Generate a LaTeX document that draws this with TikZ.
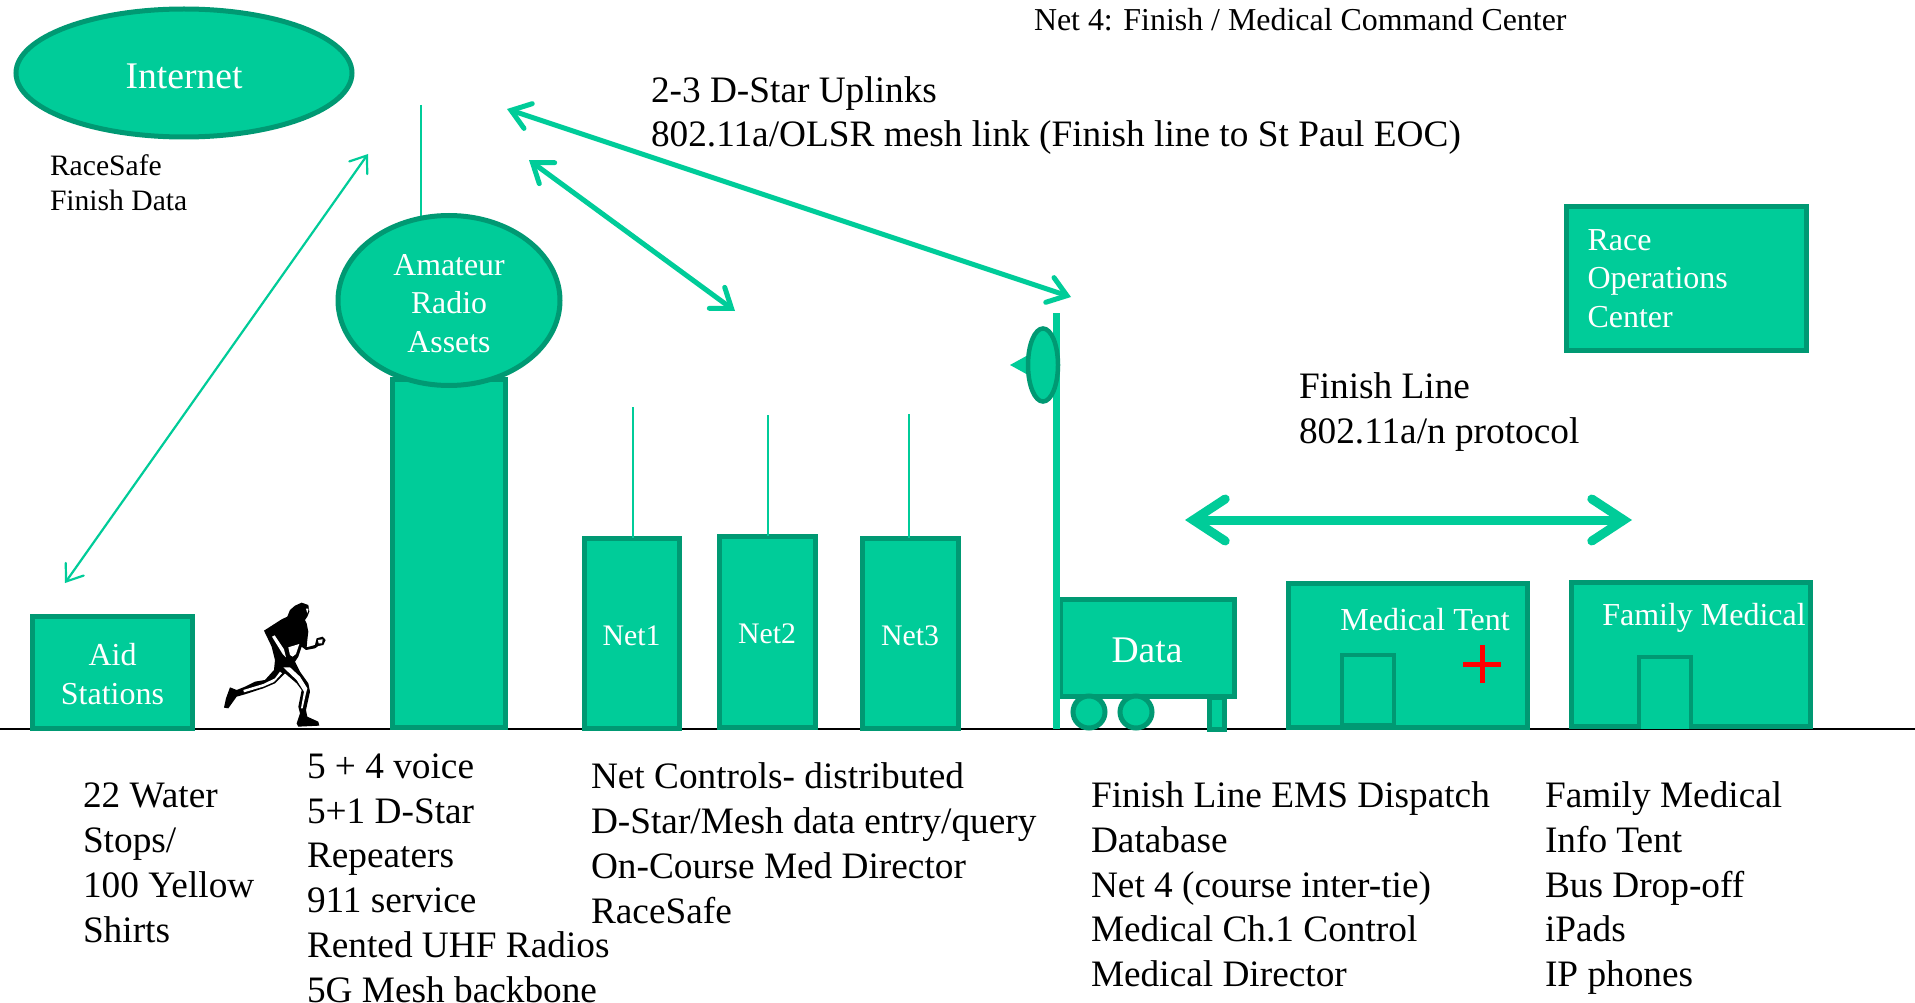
\documentclass[tikz,border=0pt]{standalone}
\usepackage{fontspec}
\setmainfont{Liberation Serif}
\usetikzlibrary{arrows.meta}
\definecolor{gfill}{HTML}{00CC99}
\definecolor{gline}{HTML}{009973}
\tikzset{
  x=1pt,y=-1pt,
  shapebox/.style={draw=gline,fill=gfill,line width=5pt,rectangle,outer sep=0pt,inner sep=0pt,anchor=north west,text=white,align=center,font=\fontsize{32}{38.5}\selectfont},
  oval/.style={draw=gline,fill=gfill,line width=5pt,ellipse,outer sep=0pt,inner sep=0pt,text=white,align=center,font=\fontsize{31.8}{38.5}\selectfont},
  label/.style={anchor=base west,align=left,inner sep=0pt,outer sep=0pt,text=black,font=\fontsize{37.3}{44.7}\selectfont},
  small/.style={label,font=\fontsize{29.6}{35.4}\selectfont},
  whitetext/.style={text=white,inner sep=0pt,outer sep=0pt,font=\fontsize{32}{38.5}\selectfont},
  mast/.style={draw=gfill,line width=2pt},
  thinarrow/.style={draw=gfill,line width=2.2pt,{Straight Barb[length=15pt,width=22pt,line cap=round]}-{Straight Barb[length=15pt,width=22pt,line cap=round]}},
  midarrow/.style={draw=gfill,line width=5pt,{Straight Barb[length=18pt,width=26pt,line cap=round]}-{Straight Barb[length=18pt,width=26pt,line cap=round]}},
  bigarrow/.style={draw=gfill,line width=9pt,{Straight Barb[length=32pt,width=42pt,line cap=round]}-{Straight Barb[length=32pt,width=42pt,line cap=round]}},
}
\usetikzlibrary{shapes.geometric}
\begin{document}
\begin{tikzpicture}
\useasboundingbox (0,0) rectangle (1915,1003);
\fill[white] (0,0) rectangle (1915,1003);

% ground
\coordinate (gl) at (0,729);
\coordinate (gr) at (1915,729);
\draw[black,line width=2pt] (gl) -- (gr);

% internet
\node[oval,minimum width=336pt,minimum height=128pt] (internet) at (184,73) {\fontsize{37.6}{40}\selectfont\rule{0pt}{31pt}Internet};
\node[small] (race) at (50,211) {RaceSafe\\Finish Data};

% tower
\coordinate (a0top) at (421,105);
\coordinate (a0bot) at (421,222);
\draw[mast] (a0top) -- (a0bot);
\node[shapebox,minimum width=113pt,minimum height=348pt] (tower) at (392.5,379) {};
\node[oval,minimum width=222pt,minimum height=170pt] (assets) at (449,300.5) {\rule{0pt}{27pt}Amateur\\Radio\\Assets};

% nets
\node[shapebox,minimum width=95pt,minimum height=190pt,font=\fontsize{29.8}{38}\selectfont] (net1) at (584,538) {\rule{0pt}{25pt}Net1};
\node[shapebox,minimum width=96pt,minimum height=191pt,font=\fontsize{29.8}{38}\selectfont] (net2) at (719,536) {\rule{0pt}{25pt}Net2};
\node[shapebox,minimum width=96pt,minimum height=190pt,font=\fontsize{29.8}{38}\selectfont] (net3) at (862,538) {\rule{0pt}{25pt}Net3};
\coordinate (a1) at (633,407);
\coordinate (a2) at (768,415);
\coordinate (a3) at (909,414);
\draw[mast] (a1) -- (net1.north -| a1);
\draw[mast] (a2) -- (net2.north -| a2);
\draw[mast] (a3) -- (net3.north -| a3);

% aid stations
\node[shapebox,minimum width=160pt,minimum height=112pt] (aid) at (32.5,616.5) {\rule{0pt}{25pt}Aid\\Stations};

% data cart
\node[shapebox,minimum width=174pt,minimum height=97pt,font=\fontsize{37.6}{40}\selectfont] (data) at (1060,599) {\rule{0pt}{30pt}Data};
\node[draw=gline,fill=gfill,line width=5pt,circle,minimum size=32pt,inner sep=0pt,outer sep=0pt] (w1) at (1089,712) {};
\node[draw=gline,fill=gfill,line width=5pt,circle,minimum size=32pt,inner sep=0pt,outer sep=0pt] (w2) at (1136,712) {};
\node[shapebox,minimum width=15pt,minimum height=32pt] (leg) at (1209,697) {};
\coordinate (poleT) at (1056.5,313);
\coordinate (poleB) at (1056.5,729);
\draw[draw=gfill,line width=7.5pt] (poleT) -- (poleB);
\coordinate (t1) at (1010,365);
\coordinate (t2) at (1030,354);
\coordinate (t3) at (1030,376);
\fill[gfill] (t1) -- (t2) -- (t3) -- cycle;
\node[oval,line width=4.5pt,minimum width=30pt,minimum height=73pt] (dish) at (1043,365) {};

% medical tent
\node[shapebox,minimum width=239pt,minimum height=144pt] (tent) at (1288,583) {};
\node[whitetext] (tentlabel) at (1425,619.5) {Medical Tent};
\node[shapebox,line width=4.5pt,minimum width=52pt,minimum height=70pt] (door1) at (1342,655) {};
\coordinate (pl) at (1463,664);
\coordinate (pr) at (1501,664);
\coordinate (pt) at (1482,645);
\coordinate (pb) at (1482,683);
\draw[red,line width=5pt] (pl) -- (pr) (pt) -- (pb);

% family medical
\node[shapebox,minimum width=239pt,minimum height=144pt] (family) at (1571,582) {};
\node[whitetext] (famlabel) at (1704,617.5) {Family Medical};
\node[fill=gfill,rectangle,outer sep=0pt,inner sep=0pt,anchor=north west,minimum width=52pt,minimum height=72pt] (door2) at (1639,657) {};
\draw[draw=gline,line width=4.5pt] (door2.south west) -- (door2.north west) -- (door2.north east) -- (door2.south east);

% race operations
\node[shapebox,minimum width=240pt,minimum height=143pt] (roc) at (1566.5,207) {};
\node[label,text=white,font=\fontsize{32}{38.5}\selectfont] (roclabel) at (1587.5,327) {Race\\Operations\\Center};

% arrows
\coordinate (e1a) at (368,154);
\coordinate (e1b) at (65,583);
\draw[thinarrow] (e1a) -- (e1b);
\coordinate (e2a) at (529,160);
\coordinate (e2b) at (735,311);
\draw[midarrow] (e2a) -- (e2b);
\coordinate (e3a) at (507,109);
\coordinate (e3b) at (1071,297);
\draw[midarrow] (e3a) -- (e3b);
\coordinate (e4a) at (1185,520);
\coordinate (e4b) at (1632,520);
\draw[bigarrow] (e4a) -- (e4b);

% labels
\node[label,font=\fontsize{31.9}{36}\selectfont] (net4) at (1034,31) {Net 4: Finish / Medical Command Center};
\node[label] (uplinks) at (651,147) {2-3 D-Star Uplinks\\802.11a/OLSR mesh link (Finish line to St Paul EOC)};
\node[label] (finish) at (1299,443) {Finish Line\\802.11a/n protocol};
\node[label] (water) at (83,942) {22 Water\\Stops/\\100 Yellow\\Shirts};
\node[label] (voice) at (307,1002) {5 + 4 voice\\5+1 D-Star\\Repeaters\\911 service\\Rented UHF Radios\\5G Mesh backbone};
\node[label] (controls) at (591,923) {Net Controls- distributed\\D-Star/Mesh data entry/query\\On-Course Med Director\\RaceSafe};
\node[label] (ems) at (1091,986.5) {Finish Line EMS Dispatch\\Database\\Net 4 (course inter-tie)\\Medical Ch.1 Control\\Medical Director};
\node[label] (info) at (1545,986.5) {Family Medical\\Info Tent\\Bus Drop-off\\iPads\\IP phones};

% runner
\begin{scope}[shift={(200,560)},x=0.3333pt,y=-0.3333pt]
\fill[black] (262,170) -- (270,150) -- (285,137) -- (305,128) -- (325,135) -- (328,155) -- (322,170) -- (315,180) -- (320,190) -- (325,215) -- (322,240) -- (320,262) -- (345,255) -- (350,235) -- (368,230) -- (377,240) -- (370,255) -- (355,258) -- (345,265) -- (318,270) -- (305,260) -- (295,290) -- (285,305) -- (300,335) -- (325,370) -- (330,395) -- (318,450) -- (322,470) -- (355,485) -- (358,497) -- (295,500) -- (290,490) -- (300,460) -- (295,440) -- (305,390) -- (290,370) -- (255,340) -- (225,370) -- (190,385) -- (135,403) -- (110,410) -- (85,445) -- (72,443) -- (78,415) -- (90,382) -- (110,390) -- (135,380) -- (165,365) -- (195,360) -- (222,330) -- (225,300) -- (215,260) -- (192,212) -- (245,178) -- cycle;
\fill[white] (250,322) -- (270,322) -- (300,350) -- (322,385) -- (318,400) -- (308,445) -- (303,445) -- (312,395) -- (290,360) -- cycle;
\fill[white] (130,390) -- (190,372) -- (225,355) -- (240,335) -- (246,340) -- (222,366) -- (190,380) -- (132,397) -- cycle;
\fill[white] (216,230) -- (224,226) -- (252,268) -- (258,292) -- (248,282) -- cycle;
\fill[white] (265,262) -- (298,252) -- (288,282) -- (278,290) -- (270,285) -- cycle;
\fill[white] (354,240) -- (368,238) -- (366,250) -- (356,250) -- cycle;
\fill[white] (318,146) -- (326,146) -- (322,160) -- cycle;
\end{scope}
\end{tikzpicture}
\end{document}
